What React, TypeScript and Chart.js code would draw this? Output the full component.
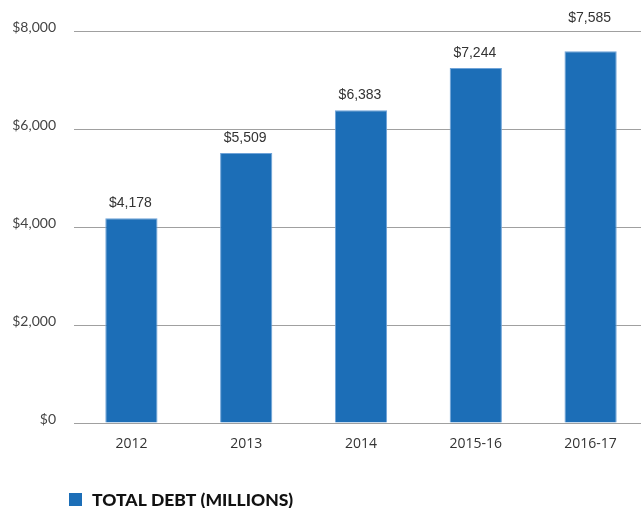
import React, { useEffect, useRef } from "react";
import { Chart, registerables } from "chart.js";

Chart.register(...registerables);

const categories = ["2012", "2013", "2014", "2015-16", "2016-17"];
const totalDebt = [4178, 5509, 6383, 7244, 7585];
const yTicks = [0, 2000, 4000, 6000, 8000];
const seriesLabel = "TOTAL DEBT (MILLIONS)";

const BAR = "#1c6eb7";
const fmt = (v: number) => "$" + v.toLocaleString("en-US");

const valueLabels = {
  id: "valueLabels",
  afterDatasetsDraw(chart: any) {
    const ctx = chart.ctx;
    const meta = chart.getDatasetMeta(0);
    const top = chart.chartArea.top;
    ctx.save();
    ctx.font = "14px 'Liberation Sans', Arial, sans-serif";
    ctx.fillStyle = "#333333";
    ctx.textAlign = "center";
    ctx.textBaseline = "alphabetic";
    meta.data.forEach((el: any, i: number) => {
      const v = chart.data.datasets[0].data[i];
      let base = el.y - 11;
      // avoid overlapping the top gridline: lift label above it
      if (base - 11 < top + 1) base = top - 9;
      ctx.fillText(fmt(v), el.x - 1, base);
    });
    ctx.restore();
  },
};

const bottomLegend = {
  id: "bottomLegend",
  afterDraw(chart: any) {
    const ctx = chart.ctx;
    const ds = chart.data.datasets[0];
    ctx.save();
    ctx.fillStyle = ds.backgroundColor;
    ctx.fillRect(69, 493, 13, 13);
    ctx.font = "900 17.5px Lato, 'DejaVu Sans', sans-serif";
    ctx.fillStyle = "#111111";
    ctx.textAlign = "left";
    ctx.textBaseline = "alphabetic";
    ctx.fillText(ds.label, 92, 506);
    ctx.restore();
  },
};

export default function App() {
  const ref = useRef<HTMLCanvasElement | null>(null);
  useEffect(() => {
    if (!ref.current) return;
    const chart = new Chart(ref.current, {
      type: "bar",
      data: {
        labels: categories,
        datasets: [
          {
            label: seriesLabel,
            data: totalDebt,
            backgroundColor: BAR,
            borderColor: "#6fa3d8",
            borderWidth: 1,
            barPercentage: 0.455,
            categoryPercentage: 1,
          },
        ],
      },
      options: {
        animation: false,
        responsive: false,
        layout: { padding: { top: 31, left: 0, right: 0, bottom: 0 } },
        plugins: { legend: { display: false }, tooltip: { enabled: false } },
        scales: {
          x: {
            grid: { display: false, drawTicks: false },
            border: { display: false },
            ticks: {
              padding: 13,
              color: "#333333",
              font: { family: "'Open Sans', sans-serif", size: 14 },
            },
            afterFit: (s: any) => {
              s.height = 85;
            },
          },
          y: {
            min: 0,
            max: 8000,
            afterBuildTicks: (s: any) => {
              s.ticks = yTicks.map((v) => ({ value: v }));
            },
            grid: { color: "#a0a0a0", lineWidth: 1, drawTicks: false },
            border: { display: false },
            ticks: {
              padding: 18,
              labelOffset: -4,
              color: "#444444",
              font: { family: "Lato, sans-serif", size: 14 },
              callback: (v: any) => fmt(Number(v)),
            },
            afterFit: (s: any) => {
              s.width = 74;
            },
          },
        },
      },
      plugins: [valueLabels, bottomLegend],
    });
    return () => chart.destroy();
  }, []);
  return (
    <div
      style={{
        position: "absolute",
        left: 0,
        top: 0,
        width: 641,
        height: 508,
        overflow: "hidden",
        background: "#fff",
      }}
    >
      <canvas ref={ref} width={648} height={508} style={{ display: "block" }} />
    </div>
  );
}
